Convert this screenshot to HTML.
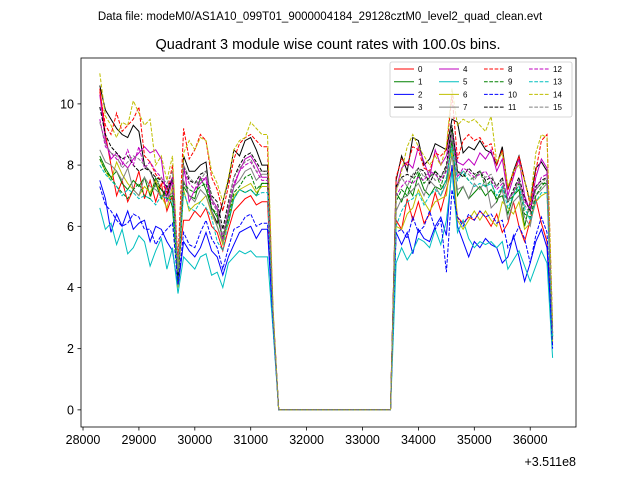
<!DOCTYPE html>
<html><head><meta charset="utf-8"><style>
body{margin:0;background:#fff;}
svg{display:block;font-family:"Liberation Sans","DejaVu Sans",sans-serif;}
</style></head><body>
<svg id="c" width="640" height="480"></svg>
<script>
const xStart = 28300, xStep = 100;
const gapZeros = 21;
const seriesNames = ["0","1","2","3","4","5","6","7","8","9","10","11","12","13","14","15"];
const left0=[10.5,9.0,8.0,7.0,7.5,6.8,7.2,7.8,6.9,7.5,6.8,7.4,6.5,7.0,4.6,6.2,6.2,6.5,6.3,6.6,6.0,5.8,5.2,5.9,6.5,6.7,6.9,7.0,6.7,6.8,6.8,3.0];
const right0=[6.2,5.9,6.9,6.2,6.8,6.1,6.4,7.1,6.5,7.2,7.9,6.3,6.1,6.3,6.2,6.5,6.3,6.0,6.4,5.8,6.1,6.8,6.0,5.5,6.2,6.9,6.1,5.5,2.6];
const left1=[8.3,7.9,7.6,7.8,7.4,7.2,7.5,7.3,7.6,7.0,7.4,6.9,7.3,6.6,4.2,7.3,7.0,6.9,7.6,7.2,6.6,6.3,5.6,6.1,6.9,7.2,7.1,7.2,7.0,7.4,7.4,3.0];
const right1=[7.1,6.8,7.3,7.0,7.7,7.2,7.0,7.3,7.2,7.5,8.8,7.0,7.3,6.9,7.1,7.3,7.0,7.2,6.9,7.0,6.4,7.0,7.2,6.0,6.8,7.2,7.4,7.4,2.3];
const left2=[7.5,6.9,5.8,6.4,6.0,6.5,5.9,6.1,6.2,5.5,6.0,5.9,5.5,5.2,4.0,5.5,5.2,5.0,5.3,5.8,5.2,5.0,4.4,5.0,5.4,5.8,5.9,6.0,5.6,5.9,5.9,2.8];
const right2=[5.8,5.4,5.8,5.1,5.9,5.6,5.5,6.0,6.3,5.7,8.0,6.0,5.5,5.0,5.5,5.3,5.6,5.4,5.3,4.8,5.0,5.7,5.0,4.2,4.8,5.5,5.9,5.3,2.1];
const left3=[10.6,9.8,9.5,9.2,9.0,8.9,9.3,9.1,8.0,7.8,7.4,7.2,7.0,7.6,4.2,8.3,7.8,7.8,8.0,8.1,6.5,6.1,6.8,7.5,8.5,8.3,8.8,8.9,8.5,8.0,8.0,3.1];
const right3=[7.5,8.3,7.8,8.9,8.8,8.0,8.2,8.7,8.6,8.5,9.5,9.4,8.4,8.6,8.5,8.8,8.5,8.4,8.0,8.6,7.2,7.8,8.3,7.5,6.8,7.9,8.1,7.8,2.4];
const left4=[10.3,8.8,8.2,8.4,8.1,7.9,8.2,8.4,8.6,8.4,8.5,8.2,6.8,7.5,4.6,8.0,6.8,7.2,7.4,7.6,6.9,6.6,5.5,6.5,7.3,7.8,8.2,8.3,8.0,7.6,7.6,3.2];
const right4=[7.2,7.9,8.1,7.9,8.6,8.1,7.6,8.5,8.0,8.3,9.2,8.1,8.0,8.2,8.0,8.4,8.2,8.5,7.8,8.2,7.0,7.6,8.2,7.0,6.5,7.6,8.2,7.9,2.5];
const left5=[6.6,5.9,6.1,5.4,5.9,5.1,5.3,5.7,5.5,4.7,5.2,5.6,4.6,5.3,3.8,5.0,4.8,4.6,5.0,5.1,4.4,4.5,4.0,4.8,5.0,5.2,5.1,5.2,5.0,5.0,5.0,2.6];
const right5=[4.8,5.3,4.9,5.2,5.6,5.5,5.3,5.9,5.4,6.2,7.8,5.8,6.2,5.6,5.3,5.5,5.4,5.5,5.3,5.5,4.6,4.9,5.2,4.7,4.2,4.7,5.2,4.8,1.7];
const left6=[8.2,7.8,7.5,8.1,7.7,7.4,7.2,7.0,7.3,7.1,7.5,7.0,6.6,7.3,4.0,7.2,6.5,6.7,6.8,7.0,6.4,6.0,5.4,6.2,7.0,7.2,7.3,7.4,7.1,7.3,7.3,3.0];
const right6=[6.0,5.9,6.4,6.6,7.2,6.8,6.5,6.8,6.9,7.0,8.5,6.2,5.9,6.2,6.5,6.2,6.5,6.2,6.0,6.8,6.6,6.4,6.8,5.9,6.1,6.8,7.0,7.1,2.2];
const left7=[8.5,8.1,8.0,7.8,7.5,7.9,7.2,7.0,7.6,7.3,7.2,7.0,6.9,7.1,4.5,7.5,7.0,6.8,7.2,7.0,6.5,6.0,5.5,6.4,7.3,7.5,7.8,7.9,7.5,7.7,7.7,3.0];
const right7=[6.5,6.9,7.0,7.2,7.4,7.0,7.5,7.3,7.0,7.4,8.3,7.2,7.3,6.9,7.4,7.2,7.5,6.6,6.8,7.2,6.2,6.8,7.0,6.3,6.0,7.0,7.2,7.4,2.4];
const left8=[10.4,9.3,9.0,9.7,9.1,9.3,9.5,9.9,8.3,8.1,7.7,7.5,7.1,8.0,4.9,9.2,8.2,8.5,9.0,8.8,7.6,7.2,6.5,7.3,8.2,8.7,8.9,9.0,8.8,8.6,8.6,3.2];
const right8=[7.6,8.2,8.0,8.6,8.5,7.9,7.8,8.4,8.3,8.5,10.3,8.2,8.8,9.0,8.8,8.9,8.6,8.7,8.0,8.5,7.2,7.7,8.3,7.5,6.7,7.8,8.8,9.0,2.7];
const left9=[8.2,7.8,7.6,7.3,7.1,6.9,7.2,7.4,7.0,6.9,7.6,7.2,6.9,7.0,4.1,7.4,7.2,7.1,7.3,7.4,6.6,6.4,5.6,6.3,7.1,7.3,7.6,7.7,7.2,7.4,7.4,3.0];
const right9=[6.8,7.2,7.0,7.5,7.8,7.4,7.6,7.8,7.3,7.9,9.2,7.8,7.7,7.5,7.6,7.8,7.3,7.5,6.8,7.3,6.8,7.0,7.4,6.4,6.3,7.0,7.3,7.5,2.4];
const left10=[7.3,6.7,6.5,6.2,6.0,6.1,6.4,6.3,5.9,5.9,5.4,5.7,5.9,6.1,4.1,5.8,5.4,5.3,5.8,6.2,5.6,5.3,4.6,5.3,5.9,6.0,6.3,6.4,6.0,6.1,6.1,2.8];
const right10=[5.8,5.9,5.6,6.3,5.8,6.0,6.5,5.9,6.2,4.5,7.2,6.3,6.0,6.4,6.2,6.5,6.3,6.4,6.1,6.2,5.3,5.6,6.0,5.6,4.8,5.7,6.3,5.8,2.0];
const left11=[9.9,9.0,8.6,8.4,8.2,8.3,8.0,7.8,7.9,7.8,7.6,7.5,7.3,7.5,4.4,8.0,7.5,7.4,7.7,7.8,7.0,6.8,5.9,6.8,7.6,8.0,8.3,8.4,8.1,7.8,7.8,3.1];
const right11=[7.3,7.6,7.7,7.6,7.9,7.8,7.4,7.8,7.6,8.0,9.3,7.8,7.6,7.9,7.7,7.8,7.5,7.6,7.3,7.6,6.8,7.2,7.6,6.9,6.5,7.3,7.5,7.6,2.5];
const left12=[9.5,8.6,8.4,8.2,8.0,8.5,8.0,8.6,7.9,8.1,7.8,7.6,7.2,7.6,4.7,7.8,7.4,7.2,7.6,7.5,6.8,6.5,5.6,6.6,7.4,7.8,8.0,8.1,7.8,7.5,7.5,3.1];
const right12=[7.0,7.3,7.5,7.4,7.6,7.5,7.8,7.7,7.5,7.8,9.0,7.6,7.9,7.8,7.6,7.7,7.8,7.5,7.2,7.4,6.9,7.1,7.5,6.8,6.6,7.2,7.6,7.7,2.5];
const left13=[8.0,7.7,7.5,7.3,7.0,7.2,7.1,6.9,7.0,6.9,6.7,7.0,6.9,6.8,4.5,7.1,6.6,6.5,6.8,6.6,6.3,5.5,5.2,6.2,6.9,7.2,7.1,7.2,7.0,7.1,7.1,3.0];
const right13=[6.0,6.5,6.8,6.9,7.1,6.7,7.0,7.2,7.0,7.6,8.6,7.5,7.8,7.5,7.3,7.4,7.3,7.4,7.0,7.3,6.6,7.0,7.3,6.6,6.2,6.8,7.1,7.1,2.4];
const left14=[11.0,9.6,9.3,8.9,9.4,9.3,10.1,9.7,9.3,9.5,8.0,8.3,7.5,8.3,4.6,8.4,8.8,8.5,8.9,8.8,7.8,7.4,6.8,7.6,8.5,8.8,8.9,9.4,9.2,9.0,9.0,3.3];
const right14=[7.1,7.8,8.6,9.0,8.6,8.3,8.0,8.3,8.0,8.6,10.5,9.3,9.5,9.4,9.5,9.3,9.1,9.6,8.1,8.4,7.3,7.8,8.0,7.5,6.8,8.4,9.0,8.9,2.8];
const left15=[9.4,8.7,8.4,8.3,7.9,8.1,8.3,8.2,8.0,7.8,7.3,7.6,7.4,7.8,4.5,8.0,7.6,7.4,7.5,7.8,6.9,6.5,5.7,6.7,7.6,7.9,8.1,8.2,7.8,7.8,7.8,3.1];
const right15=[7.2,7.6,7.3,7.7,7.9,7.6,7.8,7.5,7.6,7.9,9.0,7.7,7.8,7.7,7.5,7.8,7.6,7.7,7.3,7.5,6.8,7.1,7.5,6.7,6.4,7.2,7.4,7.6,2.5];
const lefts=[left0,left1,left2,left3,left4,left5,left6,left7,left8,left9,left10,left11,left12,left13,left14,left15];
const rights=[right0,right1,right2,right3,right4,right5,right6,right7,right8,right9,right10,right11,right12,right13,right14,right15];
const xTicks=[28000,29000,30000,31000,32000,33000,34000,35000,36000];
const xTickLabels=["28000","29000","30000","31000","32000","33000","34000","35000","36000"];
const yTicks=[0,2,4,6,8,10];
const yTickLabels=["0","2","4","6","8","10"];

const colors=["#ff0000","#008000","#0000ff","#000000","#bf00bf","#00bfbf","#bfbf00","#808080"];
const PL=81,PR=576,PT=58,PB=427;
const xMin=27964,xMax=36819,yMin=-0.56,yMax=11.5;
const sx=v=>PL+(v-xMin)/(xMax-xMin)*(PR-PL);
const sy=v=>PB-(v-yMin)/(yMax-yMin)*(PB-PT);
const NS="http://www.w3.org/2000/svg";
const svg=document.getElementById('c');
function mk(tag,attrs,parent){const e=document.createElementNS(NS,tag);for(const k in attrs)e.setAttribute(k,attrs[k]);(parent||svg).appendChild(e);return e;}

let t=mk('text',{x:320,y:20,'text-anchor':'middle','font-size':11.5});


t.textContent="Data file: modeM0/AS1A10_099T01_9000004184_29128cztM0_level2_quad_clean.evt";
t=mk('text',{x:328,y:49,'text-anchor':'middle','font-size':14.5});


t.textContent="Quadrant 3 module wise count rates with 100.0s bins.";

const clip=mk('clipPath',{id:'pc'});mk('rect',{x:PL,y:PT,width:PR-PL,height:PB-PT},clip);
const g=mk('g',{'clip-path':'url(#pc)'});


for(let s=0;s<16;s++){
  const vals=lefts[s].concat(new Array(gapZeros).fill(0),rights[s]);
  const pts=vals.map((v,i)=>sx(xStart+i*xStep).toFixed(1)+','+sy(v).toFixed(1)).join(' ');
  const p=mk('polyline',{points:pts,fill:'none',stroke:colors[s%8],'stroke-width':1,'stroke-dasharray':s>=8?'3.7,1.6':'none'},g);
  
  
}
const frame=mk('rect',{x:PL,y:PT,width:PR-PL,height:PB-PT,fill:'none',stroke:'#000','stroke-width':0.8});


xTicks.forEach((v,i)=>{
  mk('line',{x1:sx(v),x2:sx(v),y1:PB,y2:PB+3.5,stroke:'#000','stroke-width':0.8});
  const l=mk('text',{x:sx(v),y:PB+17,'text-anchor':'middle','font-size':12.5});
  
  
  l.textContent=xTickLabels[i];
});
yTicks.forEach((v,i)=>{
  mk('line',{x1:PL-3.5,x2:PL,y1:sy(v),y2:sy(v),stroke:'#000','stroke-width':0.8});
  const l=mk('text',{x:PL-7,y:sy(v)+4.5,'text-anchor':'end','font-size':12.5});
  
  
  l.textContent=yTickLabels[i];
});
t=mk('text',{x:576,y:466,'text-anchor':'end','font-size':12.5});


t.textContent="+3.511e8";

const lg=mk('g',{});


mk('rect',{x:390,y:62,width:182,height:55,rx:2,fill:'#fff','fill-opacity':0.8,stroke:'#ccc','stroke-width':0.8},lg);
for(let s=0;s<16;s++){
  const col=Math.floor(s/4),row=s%4;
  const x0=394+col*45,y0=69+row*12.7;
  const ln=mk('line',{x1:x0,x2:x0+20,y1:y0,y2:y0,stroke:colors[s%8],'stroke-width':1,'stroke-dasharray':s>=8?'3.7,1.6':'none'},lg);
  
  
  const tx=mk('text',{x:x0+24,y:y0+3,'font-size':8},lg);
  
  
  tx.textContent=seriesNames[s];
}
</script>
</body></html>
